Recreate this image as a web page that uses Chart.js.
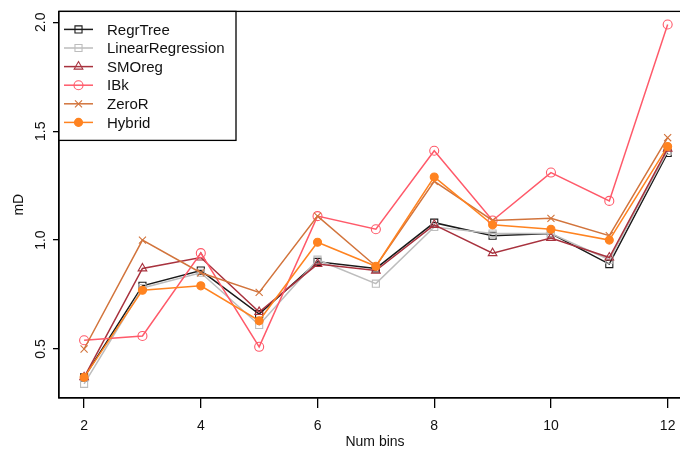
<!DOCTYPE html>
<html>
<head>
<meta charset="utf-8">
<script src="https://cdn.jsdelivr.net/npm/chart.js@4/dist/chart.umd.min.js"></script>
<style>
    body { margin: 0; background: #fff; }
    .wrap { width: 680px; height: 452px; overflow: hidden; }
</style>
</head>
<body>
<div class="wrap"><canvas id="lineChart" width="700" height="452"></canvas></div>
<script>
// chart data
const numBins = [2, 3, 4, 5, 6, 7, 8, 9, 10, 11, 12]
const regrTree = [0.37, 0.79, 0.86, 0.66, 0.90, 0.87, 1.08, 1.02, 1.03, 0.89, 1.40]
const linearRegression = [0.34, 0.78, 0.85, 0.61, 0.91, 0.80, 1.06, 1.03, 1.03, 0.91, 1.41]
const smoReg = [0.37, 0.87, 0.92, 0.67, 0.89, 0.86, 1.07, 0.94, 1.01, 0.92, 1.42]
const ibk = [0.54, 0.56, 0.94, 0.51, 1.11, 1.05, 1.41, 1.09, 1.31, 1.18, 1.99]
const zeroR = [0.50, 1.00, 0.85, 0.76, 1.11, 0.88, 1.27, 1.09, 1.10, 1.02, 1.47]
const hybrid = [0.37, 0.77, 0.79, 0.63, 0.99, 0.88, 1.29, 1.07, 1.05, 1.00, 1.43]

const seriesNames = ['RegrTree', 'LinearRegression', 'SMOreg', 'IBk', 'ZeroR', 'Hybrid']
const xTicks = [2, 4, 6, 8, 10, 12]
const yTicks = [0.5, 1.0, 1.5, 2.0]

const allSeries = [regrTree, linearRegression, smoReg, ibk, zeroR, hybrid]
const colors = ['#1a1a1a', '#bdbdbd', '#a8323e', '#ff5a6a', '#d2743c', '#ff8320']
const styles = ['rect', 'rect', 'triangle', 'circle', 'crossRot', 'circle']
const radii = [5, 5, 5, 4.5, 5, 4]
const filled = [false, false, false, false, false, true]

const font = "'Liberation Sans', Arial, sans-serif"

const datasets = allSeries.map((values, i) => ({
    label: seriesNames[i],
    data: numBins.map((b, j) => ({ x: b, y: values[j] })),
    borderColor: colors[i],
    backgroundColor: filled[i] ? colors[i] : 'rgba(0,0,0,0)',
    pointBorderColor: colors[i],
    pointBackgroundColor: filled[i] ? colors[i] : 'rgba(0,0,0,0)',
    pointStyle: styles[i],
    pointRadius: radii[i],
    pointBorderWidth: 1.1,
    borderWidth: 1.5,
    tension: 0,
    fill: false,
    order: allSeries.length - i,
}))

// draw a legend marker by hand
const drawMarker = (ctx, style, x, y, r, color, fill) => {
    ctx.save()
    ctx.strokeStyle = color
    ctx.fillStyle = color
    ctx.lineWidth = 1.1
    ctx.beginPath()
    if (style === 'rect') {
        const s = r * Math.SQRT1_2
        ctx.rect(x - s, y - s, 2 * s, 2 * s)
    } else if (style === 'triangle') {
        ctx.moveTo(x, y - r)
        ctx.lineTo(x + r * 0.866, y + r * 0.5)
        ctx.lineTo(x - r * 0.866, y + r * 0.5)
        ctx.closePath()
    } else if (style === 'circle') {
        ctx.arc(x, y, r, 0, Math.PI * 2)
    } else if (style === 'crossRot') {
        const s = r * Math.SQRT1_2
        ctx.moveTo(x - s, y - s)
        ctx.lineTo(x + s, y + s)
        ctx.moveTo(x - s, y + s)
        ctx.lineTo(x + s, y - s)
    }
    if (fill) ctx.fill()
    ctx.stroke()
    ctx.restore()
}

const boxAndLegend = {
    id: 'boxAndLegend',
    afterDraw(chart) {
        const { ctx, chartArea } = chart
        const yScale = chart.scales.y
        ctx.save()
        // plot box
        ctx.strokeStyle = '#000'
        ctx.lineWidth = 1.3
        ctx.strokeRect(chartArea.left, chartArea.top, chartArea.right - chartArea.left, chartArea.bottom - chartArea.top)

        // rotated y tick labels (R style)
        ctx.fillStyle = '#111'
        ctx.font = '14px ' + font
        ctx.textAlign = 'center'
        ctx.textBaseline = 'middle'
        yScale.ticks.forEach((t) => {
            const py = yScale.getPixelForValue(t.value)
            ctx.save()
            ctx.translate(41, py)
            ctx.rotate(-Math.PI / 2)
            ctx.fillText(t.value.toFixed(1), 0, 0)
            ctx.restore()
        })

        // legend
        const lx = chartArea.left
        const ly = chartArea.top
        ctx.fillStyle = '#fff'
        ctx.fillRect(lx, ly, 177, 129)
        ctx.strokeStyle = '#000'
        ctx.lineWidth = 1.3
        ctx.strokeRect(lx, ly, 177, 129)
        ctx.font = '15px ' + font
        ctx.textAlign = 'left'
        seriesNames.forEach((name, i) => {
            const y = ly + 18 + i * 18.6
            ctx.strokeStyle = colors[i]
            ctx.lineWidth = 1.5
            ctx.beginPath()
            ctx.moveTo(lx + 5, y)
            ctx.lineTo(lx + 34, y)
            ctx.stroke()
            drawMarker(ctx, styles[i], lx + 19.5, y, radii[i], colors[i], filled[i])
            ctx.fillStyle = '#111'
            ctx.fillText(name, lx + 48, y + 1)
        })
        ctx.restore()
    },
}

new Chart(document.getElementById('lineChart'), {
    type: 'line',
    data: { datasets },
    options: {
        responsive: false,
        animation: false,
        devicePixelRatio: 1,
        layout: { padding: { left: 0, top: 11, right: 9, bottom: 0 } },
        plugins: {
            legend: { display: false },
            tooltip: { enabled: false },
        },
        scales: {
            x: {
                type: 'linear',
                min: 1.57,
                max: 12.4,
                afterBuildTicks: (scale) => {
                    scale.ticks = xTicks.map((v) => ({ value: v }))
                },
                afterFit: (scale) => {
                    scale.height = 54
                },
                grid: { drawOnChartArea: false, drawTicks: true, tickLength: 10, color: '#000', lineWidth: 1.3 },
                border: { display: true, color: '#000', width: 1.3 },
                ticks: { color: '#111', font: { family: font, size: 14 }, padding: 10, maxRotation: 0 },
                title: { display: true, text: 'Num bins', color: '#111', font: { family: font, size: 14 }, padding: { top: 0, bottom: 1 } },
            },
            y: {
                type: 'linear',
                min: 0.275,
                max: 2.05,
                afterBuildTicks: (scale) => {
                    scale.ticks = yTicks.map((v) => ({ value: v }))
                },
                afterFit: (scale) => {
                    scale.width = 59
                },
                grid: { drawOnChartArea: false, drawTicks: true, tickLength: 6, color: '#000', lineWidth: 1.3 },
                border: { display: true, color: '#000', width: 1.3 },
                ticks: { color: 'rgba(0,0,0,0)', font: { family: font, size: 14 } },
                title: { display: true, text: 'mD', color: '#111', font: { family: font, size: 14 }, padding: { top: 11, bottom: 0 } },
            },
        },
    },
    plugins: [boxAndLegend],
})
</script>
</body>
</html>
